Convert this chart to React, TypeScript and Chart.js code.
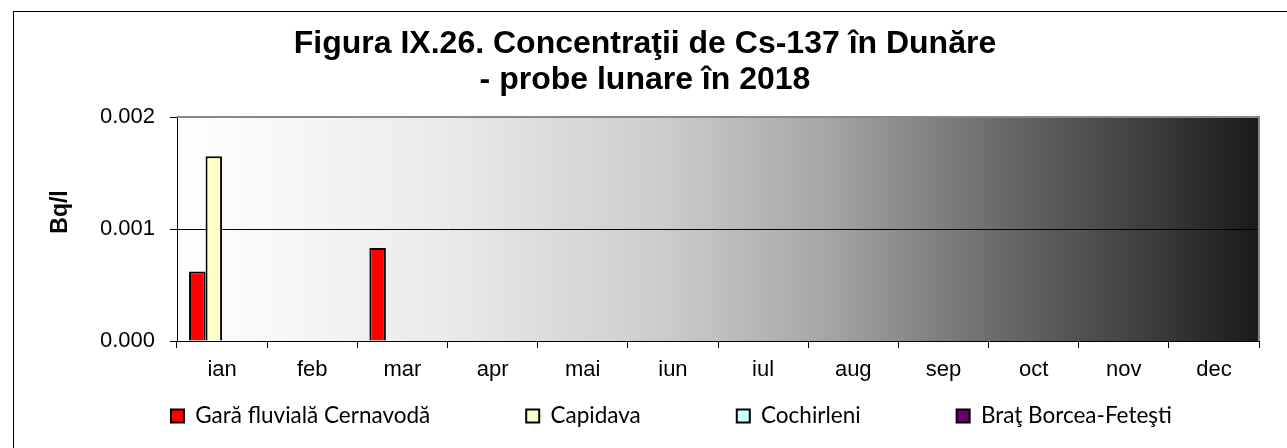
import React, { useEffect, useRef } from 'react';
import { Chart, registerables } from 'chart.js';

Chart.register(...registerables);

const months = ['ian', 'feb', 'mar', 'apr', 'mai', 'iun', 'iul', 'aug', 'sep', 'oct', 'nov', 'dec'];
const seriesNames = ['Gară fluvială Cernavodă', 'Capidava', 'Cochirleni', 'Braţ Borcea-Feteşti'];
const cernavoda = [0.00062, null, 0.00083, null, null, null, null, null, null, null, null, null];
const capidava = [0.00165, null, null, null, null, null, null, null, null, null, null, null];
const cochirleni = [null, null, null, null, null, null, null, null, null, null, null, null];
const bratBorcea = [null, null, null, null, null, null, null, null, null, null, null, null];
const seriesColors = ['#ff0000', '#ffffcc', '#ccffff', '#660066'];
const yMin = 0;
const yMax = 0.002;
const yStep = 0.001;
const yGridValue = 0.001;
const titleLines = ['Figura IX.26. Concentraţii de Cs-137 în Dunăre', '- probe lunare în 2018'];
const yTitle = 'Bq/l';

const LEG_PAD = 96;
const LEG_FONT = 22.5;
const LEG_FIRST_X = 171;
const LEG_CENTER_Y = 416;
const TITLE_DX = 9;
const YTITLE_DY = -17;

const decorPlugin = {
  id: 'decor',
  beforeLayout(chart: any) {
    const lg: any = chart.legend;
    if (lg && !lg.__patched) {
      const orig = lg.fit.bind(lg);
      lg.fit = function () {
        orig();
        this.height = 55;
      };
      lg.__patched = true;
    }
  },
  afterLayout(chart: any) {
    const lg: any = chart.legend;
    if (lg && lg.lineWidths) {
      const x0 = (lg.left + LEG_PAD + lg.right - lg.lineWidths[0]) / 2;
      const dx = LEG_FIRST_X - x0;
      lg.left += dx;
      lg.right += dx;
      lg.top = LEG_CENTER_Y - LEG_FONT / 2 - LEG_PAD;
      lg.bottom = chart.height + 50;
    }
    const tb: any = chart.titleBlock;
    if (tb) {
      tb.left += TITLE_DX;
      tb.right += TITLE_DX;
    }
    const ys: any = chart.scales.y;
    if (ys && !ys.__patched) {
      const o = ys.drawTitle.bind(ys);
      ys.drawTitle = function (...args: any[]) {
        this.ctx.save();
        this.ctx.translate(0, YTITLE_DY);
        o(...args);
        this.ctx.restore();
      };
      ys.__patched = true;
    }
  },
  beforeDraw(chart: any) {
    const ctx = chart.ctx;
    const { left, right, top, bottom } = chart.chartArea;
    ctx.save();
    ctx.fillStyle = '#ffffff';
    ctx.fillRect(0, 0, chart.width, chart.height);
    ctx.strokeStyle = '#000000';
    ctx.lineWidth = 1;
    ctx.strokeRect(13.5, 11.5, chart.width + 50, chart.height + 50);
    const g = ctx.createLinearGradient(left, 0, right, 0);
    g.addColorStop(0, '#ffffff');
    g.addColorStop(0.25, '#eaeaea');
    g.addColorStop(0.45, '#cccccc');
    g.addColorStop(0.6, '#a6a6a6');
    g.addColorStop(0.76, '#6a6a6a');
    g.addColorStop(0.9, '#3c3c3c');
    g.addColorStop(1, '#1a1a1a');
    ctx.fillStyle = g;
    ctx.fillRect(left, top, right - left, bottom - top);
    ctx.restore();
  },
  afterDraw(chart: any) {
    const ctx = chart.ctx;
    const { left, right, top, bottom } = chart.chartArea;
    ctx.save();
    ctx.strokeStyle = '#888888';
    ctx.lineWidth = 2;
    ctx.beginPath();
    ctx.moveTo(left, top);
    ctx.lineTo(right, top);
    ctx.lineTo(right, bottom);
    ctx.stroke();
    ctx.restore();
  },
};

export default function App() {
  const ref = useRef<HTMLCanvasElement | null>(null);

  useEffect(() => {
    if (!ref.current) return;
    const seriesData = [cernavoda, capidava, cochirleni, bratBorcea];
    const chart = new Chart(ref.current, {
      type: 'bar',
      data: {
        labels: months,
        datasets: seriesNames.map((name, i) => ({
          label: name,
          data: seriesData[i] as any,
          backgroundColor: seriesColors[i],
          borderColor: '#000000',
          borderWidth: 2,
          categoryPercentage: 0.733,
          barPercentage: 1.0,
        })),
      },
      options: {
        responsive: false,
        animation: false,
        devicePixelRatio: 1,
        layout: { padding: { left: 13, top: 11, right: 28, bottom: 0 } },
        plugins: {
          title: {
            display: true,
            text: titleLines,
            color: '#000000',
            font: { family: "'Liberation Sans', Arial, sans-serif", size: 32, weight: 'bold', lineHeight: 1.125 },
            padding: { top: 15, bottom: 19 },
          },
          legend: {
            display: true,
            position: 'bottom',
            labels: {
              color: '#000000',
              font: { family: "Lato, 'Open Sans', sans-serif", size: LEG_FONT },
              boxWidth: 13,
              boxHeight: 13,
              padding: LEG_PAD,
            },
          },
          tooltip: { enabled: false },
        },
        scales: {
          x: {
            afterFit: (s: any) => {
              s.height = 52;
            },
            grid: {
              offset: true,
              drawOnChartArea: false,
              drawTicks: true,
              tickLength: 7,
              tickColor: '#000000',
            },
            border: { color: '#000000', width: 1 },
            ticks: {
              color: '#000000',
              padding: 9,
              font: { family: "'Liberation Sans', Arial, sans-serif", size: 22 },
              maxRotation: 0,
            },
          },
          y: {
            min: yMin,
            max: yMax,
            afterFit: (s: any) => {
              s.width = 164;
            },
            grid: {
              color: (c: any) =>
                c.tick && Math.abs(c.tick.value - yGridValue) < 1e-9 ? '#000000' : 'rgba(0,0,0,0)',
              lineWidth: 1,
              drawTicks: true,
              tickLength: 7,
              tickColor: '#000000',
            },
            border: { color: '#000000', width: 1 },
            ticks: {
              stepSize: yStep,
              color: '#000000',
              padding: 15,
              font: { family: "'Liberation Sans', Arial, sans-serif", size: 22 },
              callback: (v: any) => Number(v).toFixed(3),
            },
            title: {
              display: true,
              text: yTitle,
              color: '#000000',
              font: { family: "'Liberation Sans', Arial, sans-serif", size: 23, weight: 'bold' },
              padding: { top: 34, bottom: 0 },
            },
          },
        },
      },
      plugins: [decorPlugin],
    });
    return () => chart.destroy();
  }, []);

  return (
    <div style={{ position: 'fixed', left: 0, top: 0, width: 1287, height: 448, background: '#fff' }}>
      <canvas ref={ref} width={1287} height={448} style={{ display: 'block', width: 1287, height: 448 }} />
    </div>
  );
}
